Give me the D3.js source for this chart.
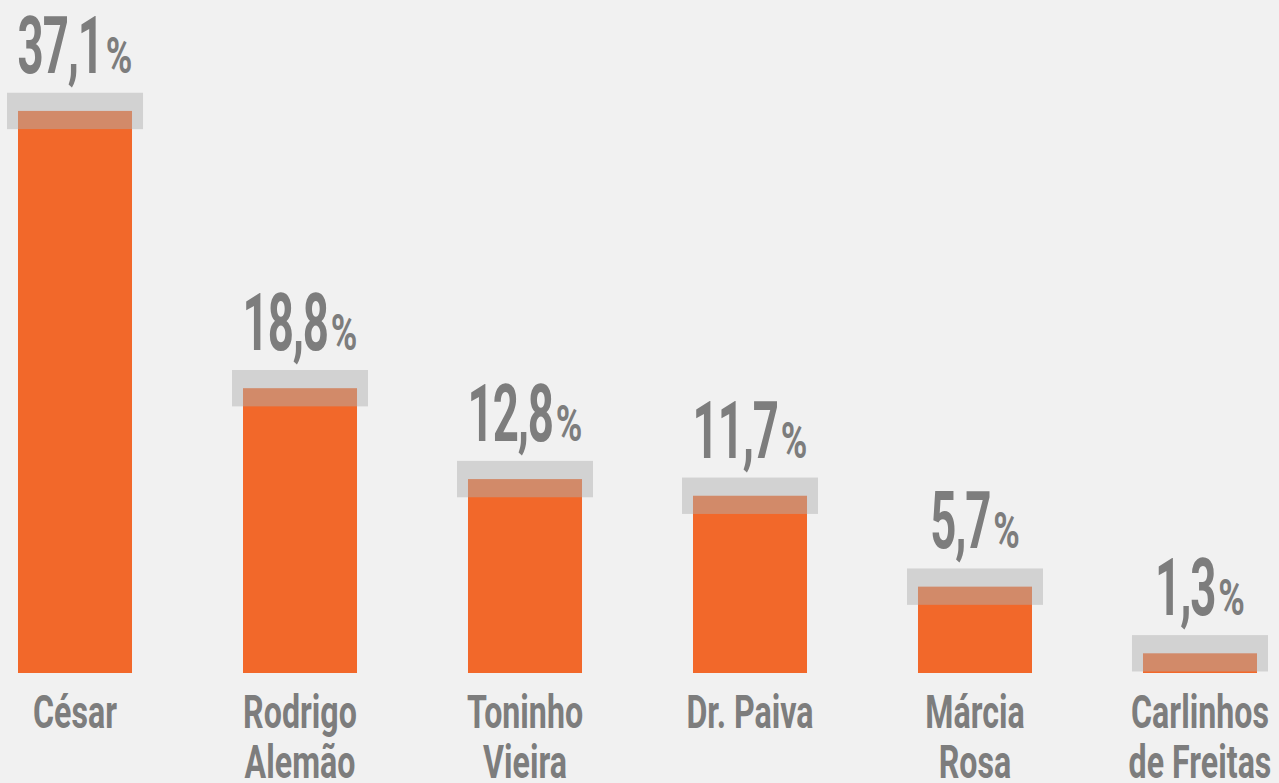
<!DOCTYPE html>
<html>
<head>
<meta charset="utf-8">
<script src="https://cdn.jsdelivr.net/npm/d3@7"></script>
<style>
  html, body { margin: 0; padding: 0; background: #f1f1f1; }
  svg { display: block; }
  text { font-family: Roboto, "DejaVu Sans", sans-serif; font-weight: 700; fill: #7d7d7d; }
</style>
</head>
<body>
<svg id="chart"></svg>
<script>
// candidates and vote share (%)
const candidates = ["César", "Rodrigo Alemão", "Toninho Vieira", "Dr. Paiva", "Márcia Rosa", "Carlinhos de Freitas"];
const nameLines = [["César"], ["Rodrigo", "Alemão"], ["Toninho", "Vieira"], ["Dr. Paiva"], ["Márcia", "Rosa"], ["Carlinhos", "de Freitas"]];
const values = [37.1, 18.8, 12.8, 11.7, 5.7, 1.3];
const valueLabels = ["37,1", "18,8", "12,8", "11,7", "5,7", "1,3"];
const margin = 1.2; // margem de erro (+/- pontos)

const width = 1279, height = 783;
const baseY = 673;

const svg = d3.select('#chart')
    .attr('width', width)
    .attr('height', height);

svg.append('rect')
    .attr('width', width)
    .attr('height', height)
    .attr('fill', '#f1f1f1');

const x = d3.scaleBand()
    .domain(candidates)
    .range([18, 1257])
    .paddingInner(0.4933)
    .paddingOuter(0);

const y = d3.scaleLinear()
    .domain([0, 40])
    .range([baseY, baseY - 40 * 15.15]);

const data = candidates.map((c, i) => ({ name: c, lines: nameLines[i], value: values[i], label: valueLabels[i] }));

// bars
svg.selectAll('.bar')
    .data(data)
  .join('rect')
    .attr('class', 'bar')
    .attr('x', d => x(d.name))
    .attr('width', x.bandwidth())
    .attr('y', d => y(d.value))
    .attr('height', d => baseY - y(d.value))
    .attr('fill', '#f2682a');

// margin of error boxes, drawn over the bar tops
const pad = 11;
svg.selectAll('.moe')
    .data(data)
  .join('rect')
    .attr('class', 'moe')
    .attr('x', d => x(d.name) - pad)
    .attr('width', x.bandwidth() + 2 * pad)
    .attr('y', d => y(d.value + margin))
    .attr('height', d => y(d.value - margin) - y(d.value + margin))
    .attr('fill', '#b0b0b0')
    .attr('fill-opacity', 0.48);

// value labels: big condensed number + small %
const numScale = 0.57, pctScale = 0.72, gap = 3;
const vl = svg.selectAll('.vlabel')
    .data(data)
  .join('g')
    .attr('class', 'vlabel');

vl.each(function(d) {
  const g = d3.select(this);
  const num = g.append('text')
      .style('font-size', '80px')
      .style('letter-spacing', '-2px')
      .text(d.label);
  const pct = g.append('text')
      .style('font-size', '50px')
      .text('%');
  const nw = num.node().getComputedTextLength() * numScale;
  const pw = pct.node().getComputedTextLength() * pctScale;
  const total = nw + gap + pw;
  const cx = x(d.name) + x.bandwidth() / 2;
  const by = y(d.value + margin) - 20;
  const left = cx - total / 2;
  num.attr('transform', `translate(${left},${by}) scale(${numScale},1)`);
  pct.attr('transform', `translate(${left + nw + gap},${by}) scale(${pctScale},1)`);
});

// category labels
const nameScale = 0.7;
const cl = svg.selectAll('.clabel')
    .data(data)
  .join('g')
    .attr('class', 'clabel')
    .attr('transform', d => `translate(${x(d.name) + x.bandwidth() / 2},728) scale(${nameScale},1)`);

cl.selectAll('text')
    .data(d => d.lines)
  .join('text')
    .attr('y', (d, i) => i * 50)
    .attr('text-anchor', 'middle')
    .style('font-size', '46px')
    .text(d => d);
</script>
</body>
</html>
